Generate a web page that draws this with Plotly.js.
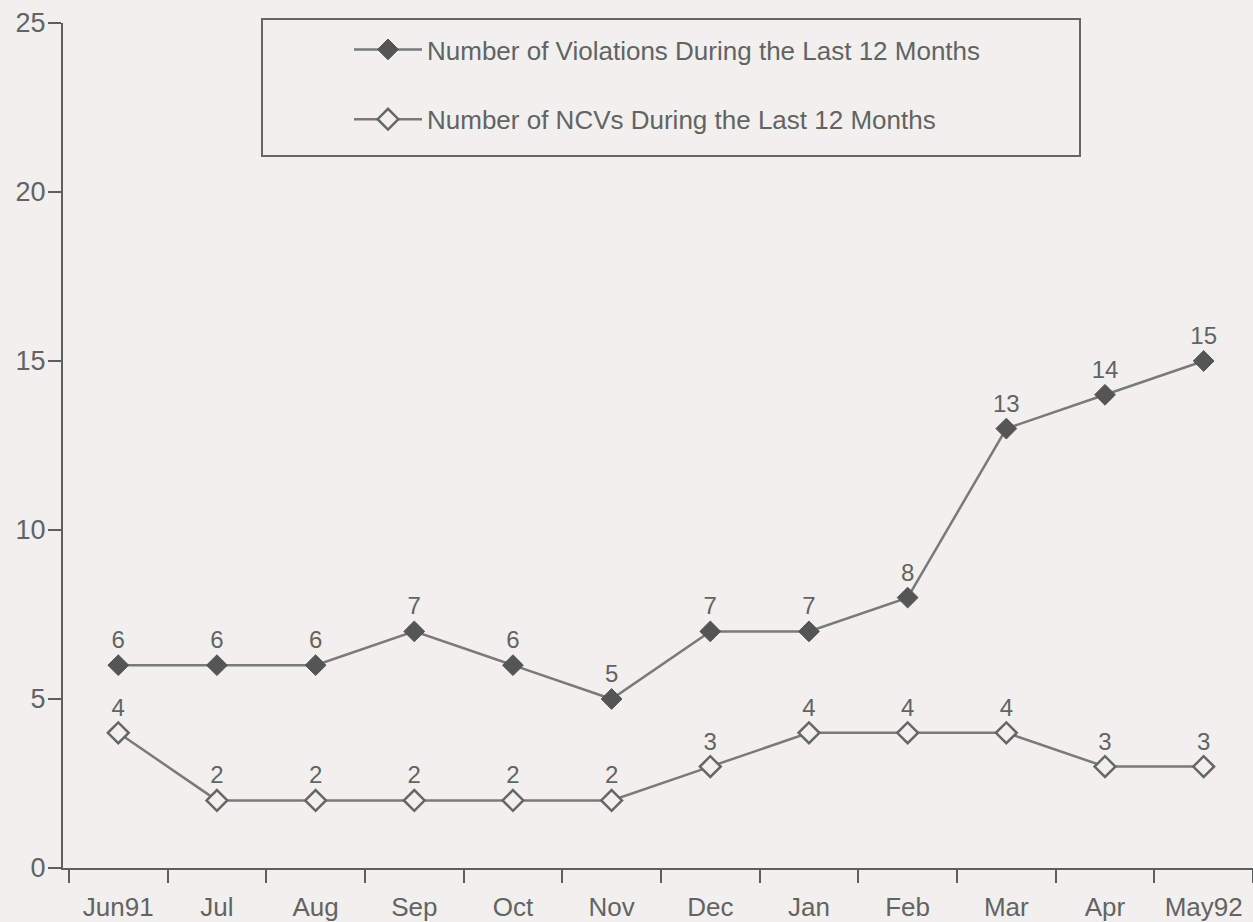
<!DOCTYPE html>
<html>
<head>
<meta charset="utf-8">
<script src="https://cdn.plot.ly/plotly-3.0.1.min.js"></script>
<style>
  html, body { margin: 0; padding: 0; background: #f1f0ee; }
  #chart { width: 1253px; height: 922px; }
</style>
</head>
<body>
<div id="chart"></div>
<script>
const months = ["Jun91", "Jul", "Aug", "Sep", "Oct", "Nov", "Dec", "Jan", "Feb", "Mar", "Apr", "May92"];
const violations = [6, 6, 6, 7, 6, 5, 7, 7, 8, 13, 14, 15];
const ncvs = [4, 2, 2, 2, 2, 2, 3, 4, 4, 4, 3, 3];
const seriesNames = ["Number of Violations During the Last 12 Months", "Number of NCVs During the Last 12 Months"];
const yTicks = [0, 5, 10, 15, 20, 25];

const bg = "#f1f0ee";
const lineCol = "#7a7a7a";
const markCol = "#555555";
const textCol = "#636363";
const axisCol = "#5e5e5e";
const fontFam = "Liberation Sans, Arial, sans-serif";

const traces = [
  {
    x: months, y: violations, name: seriesNames[0], legendgroup: "a",
    type: "scatter", mode: "lines+markers+text",
    text: violations.map(String), textposition: "top center",
    textfont: {size: 24, color: textCol, family: fontFam},
    line: {color: lineCol, width: 2.5},
    marker: {symbol: "diamond", size: 16, color: markCol, line: {color: markCol, width: 1}},
    cliponaxis: false
  },
  {
    x: months, y: ncvs, name: seriesNames[1], legendgroup: "b",
    type: "scatter", mode: "lines+markers+text",
    text: ncvs.map(String), textposition: "top center",
    textfont: {size: 24, color: textCol, family: fontFam},
    line: {color: lineCol, width: 2.5},
    marker: {symbol: "diamond", size: 16, color: bg, line: {color: "#666666", width: 2.5}},
    cliponaxis: false
  }
];

const mL = 63, mR = 0, mT = 23, mB = 54;
const pw = 1253 - mL - mR, ph = 922 - mT - mB;
const px = v => (v - mL) / pw;
const py = v => (922 - mB - v) / ph;

const layout = {
  width: 1253, height: 922,
  margin: {l: mL, r: mR, t: mT, b: mB},
  paper_bgcolor: bg, plot_bgcolor: bg,
  font: {family: fontFam, color: textCol, size: 24},
  showlegend: true,
  legend: {
    x: px(349), y: py(26), xanchor: "left", yanchor: "top",
    bgcolor: "rgba(0,0,0,0)", borderwidth: 0,
    font: {size: 26, color: textCol, family: fontFam},
    traceorder: "grouped", tracegroupgap: 33,
    itemwidth: 68
  },
  xaxis: {
    type: "category", range: [-0.56, 11.5],
    showline: true, linecolor: axisCol, linewidth: 2,
    ticks: "outside", tickson: "boundaries", ticklen: 13, tickwidth: 2, tickcolor: axisCol,
    showgrid: false, zeroline: false,
    tickfont: {size: 26, color: textCol},
    ticklabelstandoff: 15,
    fixedrange: true
  },
  yaxis: {
    range: [0, 25], tickvals: yTicks, ticktext: yTicks.map(String),
    showline: true, linecolor: axisCol, linewidth: 2,
    ticks: "outside", ticklen: 13, tickwidth: 2, tickcolor: axisCol,
    showgrid: false, zeroline: false,
    tickfont: {size: 27, color: textCol},
    ticklabelstandoff: -3,
    fixedrange: true
  },
  shapes: [
    {type: "rect", xref: "paper", yref: "paper",
     x0: px(262), x1: px(1080), y0: py(156), y1: py(19),
     line: {color: "#666666", width: 2}, fillcolor: "rgba(0,0,0,0)"}
  ]
};

Plotly.newPlot("chart", traces, layout, {displayModeBar: false, staticPlot: true});
</script>
</body>
</html>
